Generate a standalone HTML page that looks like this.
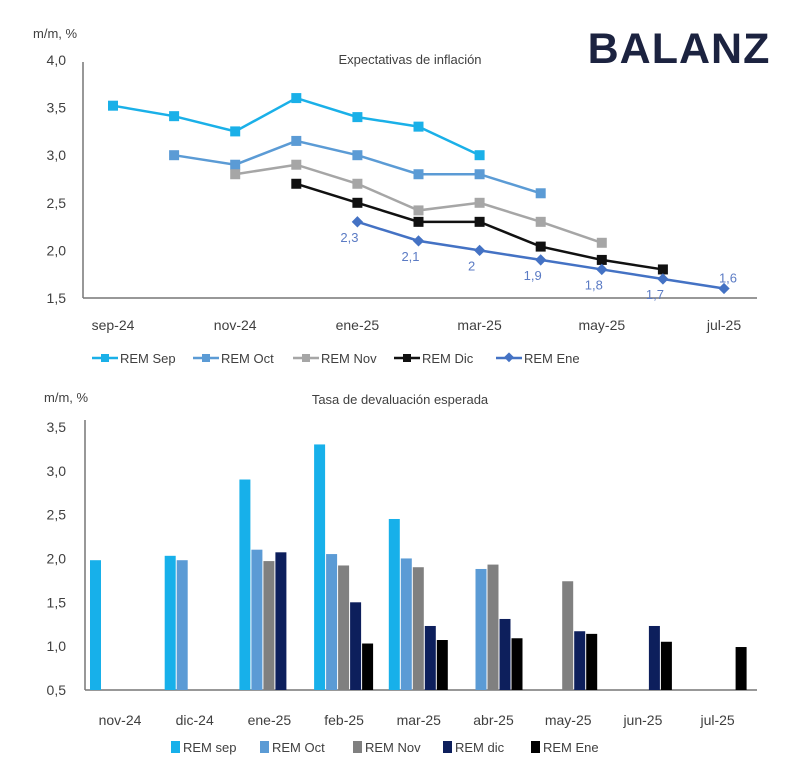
<!DOCTYPE html>
<html><head><meta charset="utf-8"><style>
body{margin:0;background:#fff;font-family:"Liberation Sans",sans-serif}
svg{display:block}
</style></head><body>
<svg id="c" width="800" height="763" xmlns="http://www.w3.org/2000/svg">
<text x="33" y="38" font-size="13" fill="#404040">m/m, %</text>
<text x="410" y="64" font-size="13" fill="#404040" text-anchor="middle">Expectativas de inflación</text>
<text x="679" y="63" font-size="43" font-weight="bold" letter-spacing="1" fill="#1c2340" text-anchor="middle">BALANZ</text>
<text x="44" y="402" font-size="13" fill="#404040">m/m, %</text>
<text x="400" y="404" font-size="13" fill="#404040" text-anchor="middle">Tasa de devaluación esperada</text>
<g id="top"></g><g id="bot"></g>
</svg>
<script>
const NS="http://www.w3.org/2000/svg";
const topMonths=["sep-24","oct-24","nov-24","dic-24","ene-25","feb-25","mar-25","abr-25","may-25","jun-25","jul-25"];
const topTicks=["1,5","2,0","2,5","3,0","3,5","4,0"];
const lineNames=["REM Sep","REM Oct","REM Nov","REM Dic","REM Ene"];
const lineStart=[0,1,2,3,4];
const remSep=[3.52,3.41,3.25,3.6,3.4,3.3,3.0];
const remOct=[3.0,2.9,3.15,3.0,2.8,2.8,2.6];
const remNov=[2.8,2.9,2.7,2.42,2.5,2.3,2.08];
const remDic=[2.7,2.5,2.3,2.3,2.04,1.9,1.8];
const remEne=[2.3,2.1,2.0,1.9,1.8,1.7,1.6];
const eneLabels=["2,3","2,1","2","1,9","1,8","1,7","1,6"];
const botCats=["nov-24","dic-24","ene-25","feb-25","mar-25","abr-25","may-25","jun-25","jul-25"];
const botTicks=["0,5","1,0","1,5","2,0","2,5","3,0","3,5"];
const barNames=["REM sep","REM Oct","REM Nov","REM dic","REM Ene"];
const barSep=[1.98,2.03,2.9,3.3,2.45,null,null,null,null];
const barOct=[null,1.98,2.1,2.05,2.0,1.88,null,null,null];
const barNov=[null,null,1.97,1.92,1.9,1.93,1.74,null,null];
const barDic=[null,null,2.07,1.5,1.23,1.31,1.17,1.23,null];
const barEne=[null,null,null,1.03,1.07,1.09,1.14,1.05,0.99];

function el(t,a,p){const e=document.createElementNS(NS,t);for(const k in a)e.setAttribute(k,a[k]);p.appendChild(e);return e;}
const T=document.getElementById('top'),B=document.getElementById('bot');
const ty=v=>298-(v-1.5)*95.2, tx=i=>113+i*61.1;
let ax=el('line',{x1:83,y1:62,x2:83,y2:298,stroke:'#777','stroke-width':1.5},T);

ax=el('line',{x1:83,y1:298,x2:757,y2:298,stroke:'#777','stroke-width':1.5},T);

topTicks.forEach((t,i)=>{const e=el('text',{x:66,y:ty(1.5+i*0.5)+5,'font-size':14,fill:'#404040','text-anchor':'end'},T);e.textContent=t;
});
topMonths.forEach((m,i)=>{if(i%2)return;const e=el('text',{x:tx(i),y:330,'font-size':14,fill:'#404040','text-anchor':'middle'},T);e.textContent=m;
});
const lineData=[remSep,remOct,remNov,remDic,remEne];
const lineCol=['#1ab0e8','#5b9bd5','#a6a6a6','#111','#4472c4'];
lineData.forEach((s,k)=>{
 const g=el('g',{},T);
 const pts=s.map((v,i)=>tx(lineStart[k]+i)+','+ty(v)).join(' ');
 el('polyline',{points:pts,fill:'none',stroke:lineCol[k],'stroke-width':2.5},g);
 s.forEach((v,i)=>{const x=tx(lineStart[k]+i),y=ty(v);let m;
  if(k==4)m=el('rect',{x:x-4,y:y-4,width:8,height:8,fill:lineCol[k],transform:`rotate(45 ${x} ${y})`},g);
  else m=el('rect',{x:x-5,y:y-5,width:10,height:10,fill:lineCol[k]},g);
  
  if(k==4){const t=el('text',{x:i==6?x+4:x-8,y:i==6?y-6:y+20,'font-size':13,fill:'#5b7bc4','text-anchor':'middle'},g);t.textContent=eneLabels[i];
   }
 });
 const lx=[92,193,293,394,496][k];
 const lg=el('g',{},T);
 el('line',{x1:lx,y1:358,x2:lx+26,y2:358,stroke:lineCol[k],'stroke-width':2.5},lg);
 if(k==4)el('rect',{x:lx+9,y:354,width:7,height:7,fill:lineCol[k],transform:`rotate(45 ${lx+13} 358)`},lg);
 else el('rect',{x:lx+9,y:354,width:8,height:8,fill:lineCol[k]},lg);
 const t=el('text',{x:lx+28,y:363,'font-size':13,fill:'#404040'},lg);t.textContent=lineNames[k];
});
const by=v=>690-(v-0.5)*87.7, bx=i=>120+i*74.7;
ax=el('line',{x1:85,y1:420,x2:85,y2:690,stroke:'#777','stroke-width':1.5},B);

ax=el('line',{x1:85,y1:690,x2:757,y2:690,stroke:'#777','stroke-width':1.5},B);

botTicks.forEach((t,i)=>{const e=el('text',{x:66,y:by(0.5+i*0.5)+5,'font-size':14,fill:'#404040','text-anchor':'end'},B);e.textContent=t;
});
botCats.forEach((m,i)=>{const e=el('text',{x:bx(i),y:725,'font-size':14,fill:'#404040','text-anchor':'middle'},B);e.textContent=m;
});
const barData=[barSep,barOct,barNov,barDic,barEne];
const barCol=['#17b0ea','#5b9bd5','#808080','#0d1f5c','#000'];
barData.forEach((s,k)=>{s.forEach((v,i)=>{if(v==null)return;
 const r=el('rect',{x:bx(i)-30+k*12,y:by(v),width:11,height:690-by(v),fill:barCol[k]},B);
 });
 const lx=[171,260,353,443,531][k];
 const lg=el('g',{},B);
 el('rect',{x:lx,y:741,width:9,height:12,fill:barCol[k]},lg);
 const t=el('text',{x:lx+12,y:752,'font-size':13,fill:'#404040'},lg);t.textContent=barNames[k];
});
</script>
</body></html>
